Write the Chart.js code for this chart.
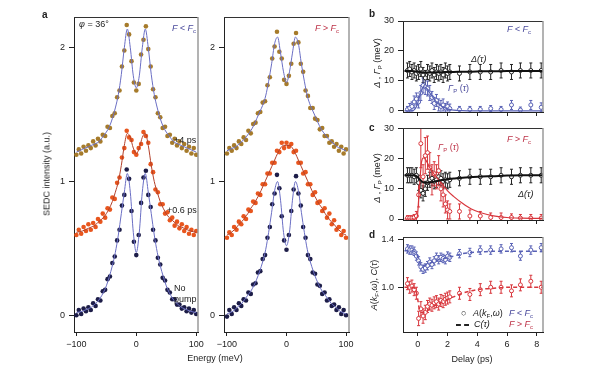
<!DOCTYPE html>
<html>
<head>
<meta charset="utf-8">
<script src="https://cdn.jsdelivr.net/npm/chart.js@4.4.1/dist/chart.umd.min.js"></script>
<style>
  body { margin: 0; background: #fff; width: 600px; height: 373px; position: relative; overflow: hidden;
         font-family: "Liberation Sans", Arial, sans-serif; }
  canvas { position: absolute; }
  .t { position: absolute; font-size: 9px; line-height: 1; color: #222; white-space: nowrap; }
  .i { font-style: italic; }
  .lbl { font-weight: bold; font-size: 10px; }
  .rot { transform: translate(-50%, -50%) rotate(-90deg); }
  .ctr { transform: translateX(-50%); }
  .blue { color: #4a4a9c; }
  .red { color: #bd3348; }
  sub { font-size: 6px; vertical-align: -2px; font-style: normal; }
</style>
</head>
<body>
<canvas id="a1" width="185" height="373" style="left:30px;top:0px"></canvas>
<canvas id="a2" width="175" height="373" style="left:190px;top:0px"></canvas>
<canvas id="b" width="240" height="125" style="left:360px;top:0px"></canvas>
<canvas id="c" width="240" height="123" style="left:360px;top:110px"></canvas>
<canvas id="d" width="240" height="153" style="left:360px;top:220px"></canvas>

<div class="t lbl" style="left:42px;top:10px">a</div>
<div class="t" style="left:79px;top:20px"><span class="i">φ</span> = 36°</div>
<div class="t i blue" style="left:172px;top:24px">F &lt; F<sub>c</sub></div>
<div class="t" style="left:174px;top:136px">+4 ps</div>
<div class="t" style="left:167px;top:206px">+0.6 ps</div>
<div class="t" style="left:174px;top:284px">No</div>
<div class="t" style="left:174px;top:295px">pump</div>
<div class="t i red" style="left:315px;top:24px">F &gt; F<sub>c</sub></div>
<div class="t rot" style="left:47px;top:174px">SEDC intensity (a.u.)</div>
<div class="t ctr" style="left:215px;top:354px">Energy (meV)</div>

<div class="t lbl" style="left:369px;top:9px">b</div>
<div class="t lbl" style="left:369px;top:123px">c</div>
<div class="t lbl" style="left:369px;top:230px">d</div>
<div class="t i blue" style="left:507px;top:25px">F &lt; F<sub>c</sub></div>
<div class="t i" style="left:471px;top:55px">Δ(τ)</div>
<div class="t blue" style="left:448px;top:84px"><span class="i">Γ</span><sub>P</sub> (<span class="i">τ</span>)</div>
<div class="t i red" style="left:507px;top:135px">F &gt; F<sub>c</sub></div>
<div class="t red" style="left:438px;top:143px"><span class="i">Γ</span><sub>P</sub> (<span class="i">τ</span>)</div>
<div class="t i" style="left:518px;top:190px">Δ(τ)</div>
<div class="t rot" style="left:378px;top:63px"><span class="i">Δ</span> , <span class="i">Γ</span><sub>P</sub> (meV)</div>
<div class="t rot" style="left:378px;top:178px"><span class="i">Δ</span> , <span class="i">Γ</span><sub>P</sub> (meV)</div>
<div class="t rot" style="left:375px;top:285px"><span class="i">A</span>(<span class="i">k</span><sub>F</sub>,<span class="i">ω</span>), <span class="i">C</span>(<span class="i">τ</span>)</div>
<div class="t" style="left:461px;top:309px">○</div>
<div class="t" style="left:473px;top:309px"><span class="i">A</span>(<span class="i">k</span><sub>F</sub>,<span class="i">ω</span>)</div>
<div class="t i blue" style="left:509px;top:309px">F &lt; F<sub>c</sub></div>
<div style="position:absolute;left:456px;top:324px;width:13px;border-top:2px dashed #222"></div>
<div class="t i" style="left:474px;top:320px">C(τ)</div>
<div class="t i red" style="left:509px;top:320px">F &gt; F<sub>c</sub></div>
<div class="t ctr" style="left:472px;top:355px">Delay (ps)</div>

<script>
// energy axis of the spectra (meV)
const energy = [-100,-96,-92,-88,-84,-80,-76,-72,-68,-64,-60,-56,-52,-48,-44,-40,-36,-32,-28,-24,-20,-16,-12,-8,-4,0,4,8,12,16,20,24,28,32,36,40,44,48,52,56,60,64,68,72,76,80,84,88,92,96,100];
const energyFit = [-100,-95,-90,-85,-80,-75,-70,-65,-60,-55,-50,-45,-40,-35,-30,-25,-20,-15,-10,-5,0,5,10,15,20,25,30,35,40,45,50,55,60,65,70,75,80,85,90,95,100];

// F < Fc  (left)
const noPumpL = [0.0,0.04,0.01,0.05,0.03,0.06,0.04,0.09,0.07,0.12,0.11,0.18,0.19,0.27,0.29,0.39,0.44,0.56,0.64,0.82,0.9,1.09,1.02,0.78,0.55,0.45,0.6,0.84,1.03,1.08,0.9,0.81,0.64,0.56,0.43,0.38,0.28,0.26,0.19,0.17,0.12,0.12,0.08,0.08,0.05,0.06,0.03,0.05,0.02,0.04,0.01];
const ps06L = [0.6,0.64,0.61,0.66,0.63,0.68,0.64,0.69,0.66,0.72,0.7,0.76,0.73,0.8,0.79,0.88,0.87,0.99,1.03,1.18,1.25,1.38,1.33,1.31,1.22,1.2,1.25,1.28,1.37,1.34,1.29,1.13,1.07,0.94,0.92,0.83,0.83,0.76,0.77,0.71,0.73,0.67,0.7,0.65,0.68,0.63,0.66,0.61,0.64,0.6,0.63];
const ps4L = [1.2,1.24,1.21,1.26,1.23,1.27,1.25,1.3,1.27,1.32,1.3,1.35,1.34,1.41,1.4,1.49,1.51,1.63,1.68,1.86,1.98,2.17,2.1,1.9,1.74,1.68,1.73,1.95,2.06,2.16,1.99,1.86,1.69,1.63,1.51,1.48,1.4,1.41,1.34,1.35,1.29,1.32,1.27,1.3,1.25,1.28,1.23,1.26,1.21,1.25,1.2];
const noPumpLFit = [0.02,0.025,0.03,0.04,0.05,0.06,0.08,0.1,0.13,0.17,0.22,0.29,0.37,0.47,0.6,0.76,0.92,1.06,0.92,0.62,0.47,0.62,0.92,1.06,0.92,0.76,0.6,0.47,0.37,0.29,0.22,0.17,0.13,0.1,0.08,0.06,0.05,0.04,0.03,0.025,0.02];
const ps06LFit = [0.62,0.625,0.63,0.64,0.65,0.66,0.67,0.69,0.71,0.73,0.76,0.8,0.85,0.92,1.0,1.12,1.27,1.36,1.33,1.25,1.21,1.25,1.33,1.36,1.27,1.12,1.0,0.92,0.85,0.8,0.76,0.73,0.71,0.69,0.67,0.66,0.65,0.64,0.63,0.625,0.62];
const ps4LFit = [1.22,1.23,1.24,1.25,1.26,1.27,1.28,1.29,1.31,1.34,1.37,1.41,1.47,1.55,1.65,1.8,2.0,2.14,2.0,1.79,1.7,1.79,2.0,2.14,2.0,1.8,1.65,1.55,1.47,1.41,1.37,1.34,1.31,1.29,1.28,1.27,1.26,1.25,1.24,1.23,1.22];

// F > Fc  (right)
const noPumpR = [-0.01,0.04,0.01,0.06,0.04,0.09,0.07,0.12,0.11,0.17,0.16,0.23,0.24,0.32,0.33,0.42,0.45,0.58,0.66,0.83,0.91,1.05,0.95,0.74,0.56,0.49,0.6,0.78,0.94,1.04,0.91,0.82,0.66,0.58,0.45,0.42,0.32,0.31,0.23,0.22,0.16,0.17,0.11,0.12,0.07,0.08,0.04,0.06,0.01,0.04,0.0];
const ps06R = [0.58,0.62,0.6,0.66,0.64,0.7,0.68,0.74,0.72,0.79,0.78,0.85,0.84,0.91,0.9,0.98,0.98,1.06,1.06,1.14,1.14,1.23,1.22,1.29,1.25,1.29,1.26,1.28,1.22,1.23,1.14,1.14,1.06,1.07,0.98,0.98,0.9,0.92,0.84,0.85,0.78,0.8,0.73,0.76,0.68,0.71,0.64,0.66,0.6,0.63,0.58];
const ps4R = [1.21,1.25,1.23,1.27,1.25,1.3,1.28,1.33,1.31,1.38,1.36,1.43,1.44,1.51,1.52,1.59,1.6,1.72,1.78,1.92,2.01,2.12,1.97,1.92,1.76,1.73,1.79,1.88,2.03,2.11,2.04,1.88,1.82,1.68,1.64,1.55,1.55,1.47,1.46,1.39,1.4,1.34,1.34,1.29,1.3,1.26,1.28,1.23,1.26,1.21,1.24];
const noPumpRFit = [0.01,0.02,0.03,0.05,0.07,0.09,0.12,0.15,0.18,0.22,0.27,0.33,0.4,0.49,0.62,0.77,0.93,1.0,0.86,0.62,0.52,0.62,0.86,1.0,0.93,0.77,0.62,0.49,0.4,0.33,0.27,0.22,0.18,0.15,0.12,0.09,0.07,0.05,0.03,0.02,0.01];
const ps06RFit = [0.6,0.61,0.63,0.65,0.68,0.7,0.73,0.76,0.8,0.83,0.87,0.91,0.96,1.01,1.06,1.11,1.16,1.21,1.25,1.27,1.27,1.27,1.25,1.21,1.16,1.11,1.06,1.01,0.96,0.91,0.87,0.83,0.8,0.76,0.73,0.7,0.68,0.65,0.63,0.61,0.6];
const ps4RFit = [1.23,1.24,1.25,1.26,1.28,1.3,1.32,1.35,1.38,1.42,1.47,1.52,1.57,1.64,1.75,1.88,2.03,2.08,1.96,1.82,1.74,1.82,1.96,2.08,2.03,1.88,1.75,1.64,1.57,1.52,1.47,1.42,1.38,1.35,1.32,1.3,1.28,1.26,1.25,1.24,1.23];

// delay scans (ps)
const delays = [-0.7,-0.55,-0.4,-0.25,-0.1,0.05,0.2,0.35,0.5,0.65,0.8,0.95,1.1,1.25,1.4,1.55,1.7,1.85,2.0,2.15,2.8,3.5,4.2,4.9,5.6,6.3,6.9,7.6,8.3];
const delaysFit = [-0.9,-0.6,-0.4,-0.2,-0.05,0.1,0.25,0.4,0.6,0.8,1.0,1.2,1.4,1.6,1.8,2.0,2.4,3,3.6,4.3,5,6,7,8.4];

const bDelta = [13.5,14,13,13.5,12.5,13,14,12,11,13,12.5,13.5,12,13,12.5,13,12,13.5,12.5,13,12.5,13,13,13,13.5,13,13.5,13.5,13.5];
const bDeltaErr = [2.5,2.5,2.5,2.5,2.5,2.5,2.5,2.5,2.5,2.5,2.5,2.5,2.5,2.5,2.5,2.5,2.5,2.5,2.5,2.5,2.5,2.5,2.5,2.5,2.5,2.5,2.5,2.5,2.5];
const bGamma = [0.5,1,1.5,3,4,3,6,8.5,8,7.5,6,4.5,2.5,3.5,2,1.5,2,1,1.5,0.8,0.5,0.5,0.5,0.8,0.5,2,0.3,2,1.2];
const bGammaErr = [1,1.5,1.5,2,2,2,2.5,2.5,2.5,2.5,2.5,2,2,2,2,2,2,1.5,1.5,1.5,1,1,1,1,1,1.5,1,1.5,1.5];
const bDeltaFit = [13.3,13.3,13.3,13.2,13.1,13,12.9,12.8,12.8,12.8,12.8,12.9,12.9,12.9,13,13,13,13.1,13.1,13.2,13.2,13.3,13.3,13.3];
const bGammaFit = [0,0,0,0.6,2,4.5,7,8,7.5,6,4.6,3.3,2.3,1.6,1.1,0.7,0.3,0.1,0,0,0,0,0,0];

const cDelta = [14.5,14.5,14.5,14,14.5,12,9.5,8.5,10,12,13,13.5,12.5,13,14,13.5,12.5,13,12.5,13,13.5,14,14,14,14.5,14,14.5,14.5,14.5];
const cDeltaErr = [2.5,2.5,2.5,2.5,2.5,2.5,2.5,2.5,2.5,2.5,2.5,2.5,2.5,2.5,2.5,2.5,2.5,2.5,2.5,2.5,2.5,2.5,2.5,2.5,2.5,2.5,2.5,2.5,2.5];
const cGamma = [0.3,0.3,0.3,0.5,1,8,25,14,21,22,17,13,15,14,16,10,8,5,3,2.5,2.5,1,1,0.5,0.5,0.5,0.3,0.3,0.3];
const cGammaErr = [0.8,0.8,0.8,1,1.5,4,8,4,6,5.5,5,5,4,4,5,4,4,3,3,2.5,2.5,2,1.5,1.5,1.5,1.2,1.2,1.2,1.2];
const cDeltaFit = [14.5,14.5,14.5,14.4,14,13.2,12.5,12.1,12,12.1,12.3,12.5,12.7,12.9,13,13.2,13.4,13.7,13.9,14.1,14.2,14.4,14.5,14.5];
const cGammaFit = [0,0,0,0,0.5,10,19,20.3,19,17,15.5,14.2,13,11.8,10.5,9.3,7.5,5.2,3.3,2,1.1,0.5,0.3,0.2];

const dBlue = [1.32,1.31,1.31,1.3,1.26,1.22,1.17,1.15,1.16,1.18,1.21,1.19,1.22,1.25,1.23,1.25,1.24,1.23,1.26,1.25,1.28,1.29,1.31,1.31,1.32,1.33,1.26,1.31,1.33];
const dBlueErr = [0.035,0.035,0.035,0.035,0.035,0.035,0.035,0.035,0.035,0.035,0.035,0.035,0.035,0.035,0.035,0.035,0.035,0.035,0.035,0.035,0.035,0.035,0.035,0.035,0.035,0.035,0.035,0.035,0.035];
const dRed = [1.03,1.0,1.01,0.98,0.95,0.74,0.82,0.76,0.79,0.84,0.86,0.85,0.87,0.88,0.86,0.89,0.88,0.9,0.91,0.92,0.95,0.94,0.98,1.0,1.0,0.97,1.02,1.05,1.0];
const dRedErr = [0.05,0.05,0.05,0.05,0.05,0.06,0.06,0.06,0.06,0.05,0.05,0.05,0.05,0.05,0.05,0.05,0.05,0.05,0.05,0.05,0.05,0.05,0.05,0.05,0.05,0.05,0.05,0.05,0.05];
const dBlueFit = [1.305,1.305,1.305,1.3,1.27,1.21,1.18,1.18,1.19,1.2,1.21,1.22,1.23,1.235,1.24,1.25,1.26,1.28,1.29,1.295,1.3,1.3,1.3,1.3];
const dRedFit = [1.0,1.0,1.0,0.99,0.93,0.82,0.79,0.79,0.8,0.82,0.84,0.85,0.86,0.875,0.885,0.9,0.92,0.95,0.97,0.985,0.99,1.0,1.0,1.0];

const spectraTicks = [-100, 0, 100];
const delayTicks = [0, 2, 4, 6, 8];

Chart.defaults.font.family = '"Liberation Sans", Arial, sans-serif';
Chart.defaults.font.size = 9;
Chart.defaults.color = '#222';

const xy = (xs, ys) => xs.map((x, i) => ({ x: x, y: ys[i] }));
const minus = v => (v < 0 ? '\u2212' + Math.abs(v) : String(v));

// grey right edge and dark top edge of every panel
const frame = {
  id: 'frame',
  afterDraw(chart) {
    const { ctx, chartArea: a } = chart;
    ctx.save();
    ctx.strokeStyle = '#333';
    ctx.lineWidth = 1;
    ctx.beginPath(); ctx.moveTo(a.left, a.top + 0.5); ctx.lineTo(a.right, a.top + 0.5); ctx.stroke();
    ctx.strokeStyle = '#9a9a9a';
    ctx.lineWidth = 1.5;
    ctx.beginPath(); ctx.moveTo(a.right, a.top); ctx.lineTo(a.right, a.bottom); ctx.stroke();
    ctx.restore();
  }
};

// vertical error bars from dataset.errors
const errorBars = {
  id: 'errorBars',
  beforeDatasetsDraw(chart) {
    const { ctx, chartArea: a } = chart;
    const ys = chart.scales.y, xs = chart.scales.x;
    ctx.save();
    ctx.beginPath(); ctx.rect(a.left, a.top, a.right - a.left, a.bottom - a.top); ctx.clip();
    chart.data.datasets.forEach(ds => {
      if (!ds.errors) return;
      ctx.strokeStyle = ds.borderColor;
      ctx.lineWidth = 1;
      ds.data.forEach((p, j) => {
        const x = xs.getPixelForValue(p.x);
        const t = ys.getPixelForValue(p.y + ds.errors[j]);
        const b = ys.getPixelForValue(p.y - ds.errors[j]);
        ctx.beginPath();
        ctx.moveTo(x, t); ctx.lineTo(x, b);
        ctx.moveTo(x - 1.5, t); ctx.lineTo(x + 1.5, t);
        ctx.moveTo(x - 1.5, b); ctx.lineTo(x + 1.5, b);
        ctx.stroke();
      });
    });
    ctx.restore();
  }
};

function axes(o) {
  return {
    x: {
      type: 'linear', min: o.xmin, max: o.xmax,
      afterBuildTicks: ax => { ax.ticks = o.xticks.map(v => ({ value: v })); },
      afterFit: ax => { ax.height = o.xH; },
      grid: { drawOnChartArea: false, tickLength: 4, color: '#222', tickColor: '#222' },
      border: { color: '#222', width: 1 },
      ticks: { padding: 3, maxRotation: 0, callback: o.xLabels ? minus : () => '' }
    },
    y: {
      type: 'linear', min: o.ymin, max: o.ymax,
      afterBuildTicks: ax => { ax.ticks = o.yticks.map(v => ({ value: v })); },
      afterFit: ax => { ax.width = o.yW; },
      grid: { drawOnChartArea: false, tickLength: 5, color: '#222', tickColor: '#222' },
      border: { color: '#222', width: 1 },
      ticks: { padding: 4, callback: o.yfmt || (v => String(v)) }
    }
  };
}

function base(pad, scales) {
  return {
    responsive: false, animation: false,
    layout: { padding: pad },
    plugins: { legend: { display: false }, tooltip: { enabled: false } },
    scales: scales
  };
}

const dotSet = (xs, ys, color) => ({
  data: xy(xs, ys), pointRadius: 2.3, pointBackgroundColor: color, pointBorderWidth: 0,
  borderColor: color, showLine: false
});
const fitSet = (xs, ys, color, w, dash) => ({
  data: xy(xs, ys), showLine: true, pointRadius: 0, borderColor: color, borderWidth: w,
  borderDash: dash || [], cubicInterpolationMode: 'monotone'
});
const errSet = (xs, ys, err, color) => ({
  data: xy(xs, ys), errors: err, showLine: false, pointRadius: 2, pointBorderWidth: 1,
  pointBackgroundColor: '#fff', pointBorderColor: color, borderColor: color
});

const navy = '#1d1d48', orange = '#e8561e', brown = '#a67b2b';
const fitBlue = '#6a6ec4', fitRed = '#b3402a';
const blue = '#5861b5', red = '#d8363c';

new Chart(document.getElementById('a1'), {
  type: 'scatter',
  data: { datasets: [
    fitSet(energyFit, ps4LFit, fitBlue, 1),
    fitSet(energyFit, ps06LFit, fitRed, 1),
    fitSet(energyFit, noPumpLFit, fitBlue, 1),
    dotSet(energy, ps4L, brown),
    dotSet(energy, ps06L, orange),
    dotSet(energy, noPumpL, navy)
  ] },
  options: base({ left: 0, top: 17, right: 17, bottom: 0 },
    axes({ xmin: -104, xmax: 103, xticks: spectraTicks, xLabels: true, xH: 41,
           ymin: -0.125, ymax: 2.23, yticks: [0, 1, 2], yW: 44 })),
  plugins: [frame]
});

new Chart(document.getElementById('a2'), {
  type: 'scatter',
  data: { datasets: [
    fitSet(energyFit, ps4RFit, fitBlue, 1),
    fitSet(energyFit, ps06RFit, fitRed, 1),
    fitSet(energyFit, noPumpRFit, fitBlue, 1),
    dotSet(energy, ps4R, brown),
    dotSet(energy, ps06R, orange),
    dotSet(energy, noPumpR, navy)
  ] },
  options: base({ left: 0, top: 17, right: 16, bottom: 0 },
    axes({ xmin: -105, xmax: 105, xticks: spectraTicks, xLabels: true, xH: 41,
           ymin: -0.125, ymax: 2.23, yticks: [0, 1, 2], yW: 34 })),
  plugins: [frame]
});

new Chart(document.getElementById('b'), {
  type: 'scatter',
  data: { datasets: [
    fitSet(delaysFit, bDeltaFit, '#111', 2),
    fitSet(delaysFit, bGammaFit, blue, 1.2),
    errSet(delays, bDelta, bDeltaErr, '#222'),
    errSet(delays, bGamma, bGammaErr, blue)
  ] },
  options: base({ left: 0, top: 21, right: 57, bottom: 0 },
    axes({ xmin: -1, xmax: 8.42, xticks: delayTicks, xLabels: false, xH: 13,
           ymin: -0.35, ymax: 30, yticks: [0, 10, 20, 30], yW: 43 })),
  plugins: [errorBars, frame]
});

new Chart(document.getElementById('c'), {
  type: 'scatter',
  data: { datasets: [
    fitSet(delaysFit, cDeltaFit, '#111', 2),
    fitSet(delaysFit, cGammaFit, red, 1.2),
    errSet(delays, cDelta, cDeltaErr, '#222'),
    errSet(delays, cGamma, cGammaErr, red)
  ] },
  options: base({ left: 0, top: 18, right: 57, bottom: 0 },
    axes({ xmin: -1, xmax: 8.42, xticks: delayTicks, xLabels: false, xH: 13,
           ymin: -0.33, ymax: 30.17, yticks: [0, 10, 20, 30], yW: 43 })),
  plugins: [errorBars, frame]
});

new Chart(document.getElementById('d'), {
  type: 'scatter',
  data: { datasets: [
    fitSet(delaysFit, dBlueFit, blue, 1.5, [4, 3]),
    fitSet(delaysFit, dRedFit, red, 1.5, [4, 3]),
    errSet(delays, dBlue, dBlueErr, blue),
    errSet(delays, dRed, dRedErr, red)
  ] },
  options: base({ left: 0, top: 17, right: 57, bottom: 0 },
    axes({ xmin: -1, xmax: 8.42, xticks: delayTicks, xLabels: true, xH: 41,
           ymin: 0.627, ymax: 1.419, yticks: [1.0, 1.4], yW: 43, yfmt: v => v.toFixed(1) })),
  plugins: [errorBars, frame]
});
</script>
</body>
</html>
